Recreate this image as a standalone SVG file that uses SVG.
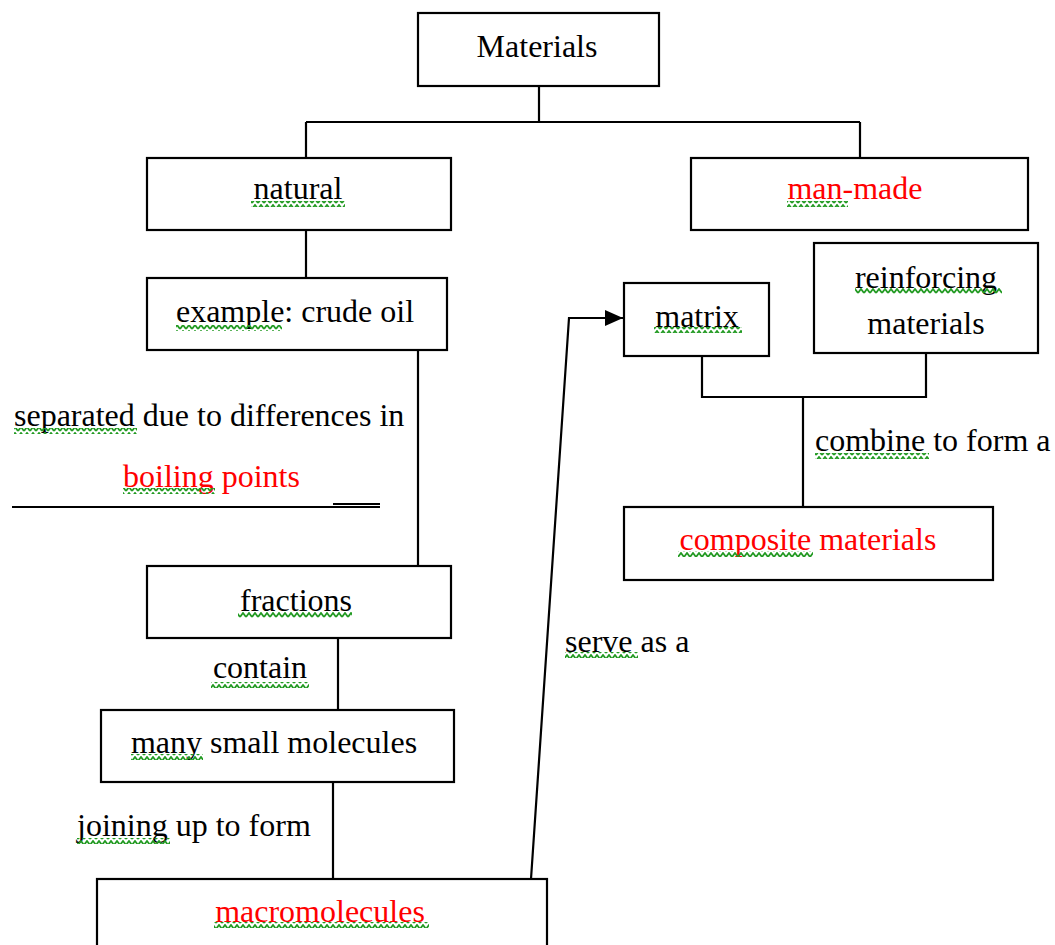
<svg xmlns="http://www.w3.org/2000/svg" width="1055" height="945" viewBox="0 0 1055 945">
<style>
.box{fill:#fff;stroke:#000;stroke-width:2.2}
.t{font-family:"Liberation Serif","Times New Roman",serif;font-size:32px;fill:#000}
.c{text-anchor:middle}
.r{fill:#ff0000}
.ln{fill:none;stroke:#000;stroke-width:2.2}
.wv{fill:url(#wave)}
</style>
<defs>
<pattern id="wave" patternUnits="userSpaceOnUse" width="6" height="6">
<path d="M0,5 L3,1 L6,5" fill="none" stroke="#229a22" stroke-width="1.8"/>
</pattern>
<marker id="arrow" viewBox="0 0 18 16" markerWidth="18" markerHeight="16" refX="18" refY="8" orient="auto" markerUnits="userSpaceOnUse">
<path d="M0,0 L18,8 L0,16 Z" fill="#000"/>
</marker>
</defs>
<rect width="1055" height="945" fill="#fff"/>
<g id="connectors">
<path class="ln" d="M539,86 V122 M306,122 H860 M306,122 V158 M860,122 V158"/>
<path class="ln" d="M306,230 V278"/>
<path class="ln" d="M418,350 V566"/>
<path class="ln" d="M338,638 V710"/>
<path class="ln" d="M333,782 V879"/>
<path class="ln" d="M531,879 L569,318 H623" marker-end="url(#arrow)"/>
<path class="ln" d="M702,356 V397 H926 V353 M803,397 V507"/>
<path class="ln" d="M12,507 H380 M333,504 H380"/>
</g>
<g id="materials">
<rect class="box" x="418" y="13" width="241" height="73"/>
<text class="t c" x="537" y="57">Materials</text>
</g>
<g id="natural">
<rect class="box" x="147" y="158" width="304" height="72"/>
<text class="t c" x="298" y="199">natural</text>
<rect class="wv" x="251" y="201" width="94" height="6"/>
</g>
<g id="man-made">
<rect class="box" x="691" y="158" width="337" height="72"/>
<text class="t c r" x="855" y="199">man-made</text>
<rect class="wv" x="787" y="201" width="61" height="6"/>
</g>
<g id="example">
<rect class="box" x="147" y="278" width="300" height="72"/>
<text class="t c" x="295" y="322">example: crude oil</text>
<rect class="wv" x="176" y="325" width="106" height="6"/>
</g>
<g id="separated-label">
<text class="t" x="14" y="426">separated due to differences in</text>
<rect class="wv" x="14" y="428" width="123" height="6"/>
<text class="t r" x="123" y="487">boiling points</text>
<rect class="wv" x="123" y="488" width="92" height="6"/>
</g>
<g id="fractions">
<rect class="box" x="147" y="566" width="304" height="72"/>
<text class="t c" x="296" y="611">fractions</text>
<rect class="wv" x="238" y="612" width="114" height="6"/>
</g>
<g id="contain-label">
<text class="t c" x="260" y="678">contain</text>
<rect class="wv" x="211" y="682" width="98" height="6"/>
</g>
<g id="many-small-molecules">
<rect class="box" x="101" y="710" width="353" height="72"/>
<text class="t c" x="274" y="753">many small molecules</text>
<rect class="wv" x="131" y="754" width="72" height="6"/>
</g>
<g id="joining-label">
<text class="t" x="77" y="836">joining up to form</text>
<rect class="wv" x="77" y="838" width="93" height="6"/>
</g>
<g id="macromolecules">
<rect class="box" x="97" y="879" width="450" height="80"/>
<text class="t c r" x="320" y="922">macromolecules</text>
<rect class="wv" x="214" y="922" width="215" height="6"/>
</g>
<g id="serve-label">
<text class="t" x="565" y="652">serve as a</text>
<rect class="wv" x="565" y="652" width="73" height="6"/>
</g>
<g id="matrix">
<rect class="box" x="624" y="283" width="145" height="73"/>
<text class="t c" x="697" y="327">matrix</text>
<rect class="wv" x="654" y="327" width="88" height="6"/>
</g>
<g id="reinforcing-materials">
<rect class="box" x="814" y="243" width="224" height="110"/>
<text class="t c" x="926" y="288">reinforcing</text>
<rect class="wv" x="855" y="288" width="147" height="6"/>
<text class="t c" x="926" y="334">materials</text>
</g>
<g id="combine-label">
<text class="t" x="815" y="451">combine to form a</text>
<rect class="wv" x="815" y="453" width="114" height="6"/>
</g>
<g id="composite-materials">
<rect class="box" x="624" y="507" width="369" height="73"/>
<text class="t c r" x="808" y="550">composite materials</text>
<rect class="wv" x="678" y="551" width="135" height="6"/>
</g>
</svg>
